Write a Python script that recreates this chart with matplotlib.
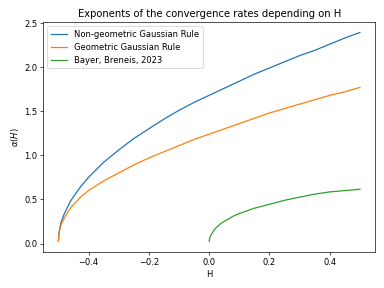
import matplotlib
matplotlib.use("Agg")
import matplotlib.pyplot as plt

# values
H_blue = [-0.5, -0.498, -0.495, -0.49, -0.48, -0.47, -0.46, -0.45, -0.425, -0.4,
          -0.35, -0.3, -0.25, -0.2, -0.15, -0.1, -0.05, 0.0, 0.05, 0.1,
          0.15, 0.2, 0.25, 0.3, 0.35, 0.4, 0.45, 0.5]
alpha_nongeo = [0.024, 0.12, 0.18, 0.25, 0.34, 0.41, 0.48, 0.53, 0.65, 0.75,
                0.92, 1.06, 1.19, 1.30, 1.41, 1.51, 1.60, 1.68, 1.76, 1.84,
                1.92, 1.99, 2.06, 2.13, 2.19, 2.26, 2.33, 2.393]
alpha_geo = [0.024, 0.10, 0.16, 0.22, 0.29, 0.35, 0.40, 0.44, 0.53, 0.60,
             0.71, 0.80, 0.89, 0.97, 1.04, 1.11, 1.18, 1.24, 1.30, 1.36,
             1.42, 1.48, 1.53, 1.58, 1.63, 1.68, 1.72, 1.77]

H_green = [0.0, 0.002, 0.005, 0.01, 0.02, 0.03, 0.04, 0.06, 0.08, 0.1,
           0.125, 0.15, 0.2, 0.25, 0.3, 0.35, 0.4, 0.45, 0.5]
alpha_bb = [0.024, 0.06, 0.09, 0.12, 0.17, 0.20, 0.23, 0.27, 0.31, 0.34,
            0.37, 0.40, 0.445, 0.49, 0.525, 0.56, 0.585, 0.60, 0.615]

fig = plt.figure(figsize=(6.4, 4.8), dpi=60)
plt.plot(H_blue, alpha_nongeo, label="Non-geometric Gaussian Rule")
plt.plot(H_blue, alpha_geo, label="Geometric Gaussian Rule")
plt.plot(H_green, alpha_bb, label="Bayer, Breneis, 2023")
plt.xlabel("H")
plt.ylabel(r"$\alpha(H)$")
plt.title("Exponents of the convergence rates depending on H")
plt.legend(loc="upper left")
plt.tight_layout()
plt.savefig("out.png", dpi=60)
